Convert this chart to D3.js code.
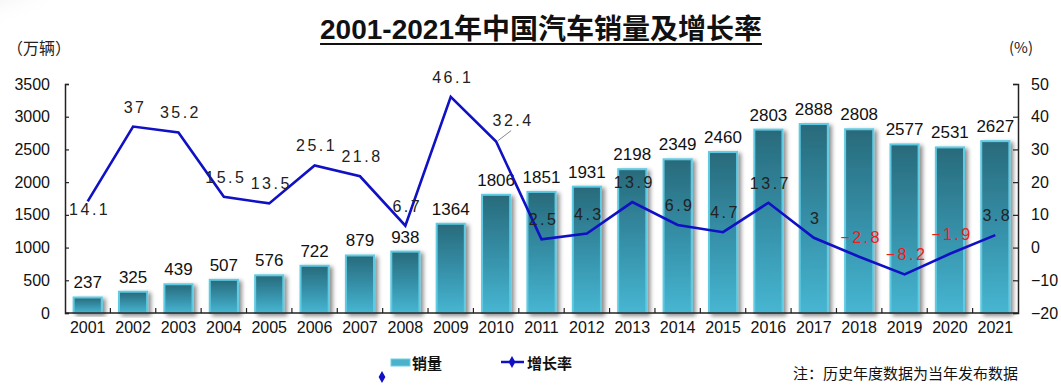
<!DOCTYPE html>
<html><head><meta charset="utf-8">
<script src="https://cdn.jsdelivr.net/npm/d3@7"></script>
<style>
html,body{margin:0;padding:0;background:#fff;}
svg{display:block;font-family:"Liberation Sans",Arial,sans-serif;}
</style></head>
<body>
<svg id="c" width="1061" height="386"></svg>
<script>
const years = ["2001","2002","2003","2004","2005","2006","2007","2008","2009","2010","2011","2012","2013","2014","2015","2016","2017","2018","2019","2020","2021"];
const sales = [237,325,439,507,576,722,879,938,1364,1806,1851,1931,2198,2349,2460,2803,2888,2808,2577,2531,2627];
const growth = [14.1,37,35.2,15.5,13.5,25.1,21.8,6.7,46.1,32.4,2.5,4.3,13.9,6.9,4.7,13.7,3,-2.8,-8.2,-1.9,3.8];
const leftTicks = [0,500,1000,1500,2000,2500,3000,3500];
const rightTicks = [-20,-10,0,10,20,30,40,50];
const titleText = "2001-2021年中国汽车销量及增长率";
const leftUnit = "（万辆）";
const rightUnit = "(%)";
const legendBar = "销量";
const legendLine = "增长率";
const noteText = "注：历史年度数据为当年发布数据";

// label placement tweaks (layout only)
const growthLabelDy = growth.map((d,i)=> i===0 ? 8 : -20);

const svg = d3.select("#c");
const W = 1061, H = 386;
const x0 = 65, x1 = 1018, yTop = 84, yBot = 313;

const defs = svg.append("defs");
const grad = defs.append("linearGradient").attr("id","barGrad").attr("x1",0).attr("y1",0).attr("x2",0).attr("y2",1);
grad.append("stop").attr("offset","0%").attr("stop-color","#286a7b");
grad.append("stop").attr("offset","50%").attr("stop-color","#358fa7");
grad.append("stop").attr("offset","100%").attr("stop-color","#47b6d2");
const f = defs.append("filter").attr("id","shadow").attr("x","-30%").attr("y","-10%").attr("width","170%").attr("height","130%");
f.append("feDropShadow").attr("dx",3).attr("dy",2).attr("stdDeviation",2).attr("flood-color","#000").attr("flood-opacity",0.45);
const rg = defs.append("radialGradient").attr("id","corner").attr("cx","0").attr("cy","0").attr("r","1");
rg.append("stop").attr("offset","0%").attr("stop-color","#cfcfcf");
rg.append("stop").attr("offset","100%").attr("stop-color","#ffffff").attr("stop-opacity",0);

svg.append("rect").attr("width",W).attr("height",H).attr("fill","#fff");
svg.append("ellipse").attr("cx",20).attr("cy",0).attr("rx",60).attr("ry",30).attr("fill","url(#corner)");

const x = d3.scaleBand().domain(years).range([x0,x1]).paddingInner(0.38).paddingOuter(0.19);
const yL = d3.scaleLinear().domain([0,3500]).range([yBot,yTop]);
const yR = d3.scaleLinear().domain([-20,50]).range([yBot,yTop]);

// Title
const t = svg.append("text").attr("x",541).attr("y",39).attr("text-anchor","middle")
  .attr("font-size",28).attr("font-weight","bold").attr("fill","#111")
  .attr("font-family","'Liberation Sans','Noto Sans CJK SC',sans-serif").text(titleText);
const tb = t.node().getBBox();
svg.append("line").attr("x1",tb.x).attr("x2",tb.x+tb.width).attr("y1",44).attr("y2",44).attr("stroke","#111").attr("stroke-width",2);

svg.append("text").attr("x",7).attr("y",54).attr("font-size",16).attr("fill","#222")
  .attr("font-family","'Noto Sans CJK SC',sans-serif").text(leftUnit);
svg.append("text").attr("x",1009).attr("y",53).attr("font-size",15).attr("fill","#222")
  .attr("font-family","'Noto Sans CJK SC',sans-serif").text(rightUnit);

// Bars
svg.append("g").selectAll("rect").data(sales).join("rect")
  .attr("x",(d,i)=>x(years[i])).attr("width",x.bandwidth())
  .attr("y",d=>yL(d)).attr("height",d=>yBot-yL(d))
  .attr("fill","url(#barGrad)").attr("stroke","#5fcbe3").attr("stroke-width",2)
  .attr("filter","url(#shadow)");

// Axes
const axL = d3.axisLeft(yL).tickValues(leftTicks).tickSize(-4).tickPadding(15).tickFormat(d3.format("d"));
const gL = svg.append("g").attr("transform",`translate(${x0},0)`).call(axL);
const axR = d3.axisRight(yR).tickValues(rightTicks).tickSize(-5).tickPadding(13).tickFormat(d=> d<0 ? "\u2212"+Math.abs(d) : String(d));
const gR = svg.append("g").attr("transform",`translate(${x1},0)`).call(axR);
[gL,gR].forEach(g=>{
  g.select(".domain").attr("stroke","#222").attr("stroke-width",1.5);
  g.selectAll(".tick line").attr("stroke","#222").attr("stroke-width",1.2);
  g.selectAll(".tick text").attr("font-size",16).attr("fill","#111").attr("font-family","'Liberation Sans',Arial,sans-serif");
});

const axB = d3.axisBottom(x).tickSize(0).tickPadding(9);
const gB = svg.append("g").attr("transform",`translate(0,${yBot})`).call(axB);
gB.select(".domain").remove();
gB.selectAll(".tick text").attr("font-size",16).attr("fill","#111").attr("font-family","'Liberation Sans',Arial,sans-serif");
svg.append("line").attr("x1",x0).attr("x2",x1).attr("y1",yBot).attr("y2",yBot).attr("stroke","#222").attr("stroke-width",1.5);
svg.append("g").selectAll("line").data(years.slice(1)).join("line")
  .attr("x1",d=>x(d)-x.step()*x.paddingInner()/2).attr("x2",d=>x(d)-x.step()*x.paddingInner()/2)
  .attr("y1",yBot).attr("y2",yBot-5).attr("stroke","#222").attr("stroke-width",1.2);

// Bar labels
svg.append("g").selectAll("text").data(sales).join("text")
  .attr("x",(d,i)=>x(years[i])+x.bandwidth()/2).attr("y",d=>yL(d)-9)
  .attr("text-anchor","middle").attr("font-size",17).attr("fill","#111").text(d=>d);

// Line
const cx = i => x(years[i])+x.bandwidth()/2;
const line = d3.line().x((d,i)=>cx(i)).y(d=>yR(d));
svg.append("path").datum(growth).attr("d",line).attr("fill","none").attr("stroke","#1010c4").attr("stroke-width",2.6).attr("stroke-linejoin","miter");

// leader for 32.4
const li = 9;
svg.append("line").attr("x1",cx(li)+2).attr("y1",yR(growth[li])-1).attr("x2",cx(li)+15).attr("y2",yR(growth[li])-11)
  .attr("stroke","#888").attr("stroke-width",1);

// Growth labels
svg.append("g").selectAll("text").data(growth).join("text")
  .attr("x",(d,i)=> cx(i) + (i===li?15:0) + 2)
  .attr("y",(d,i)=> yR(d) + (i===li?-22:growthLabelDy[i]) + 6)
  .attr("text-anchor","middle").attr("font-size",16).attr("letter-spacing","2.5px")
  .attr("font-family","'Liberation Sans',Arial,sans-serif")
  .attr("fill",d=> d<0 ? "#e8201c" : "#222")
  .text(d=> d<0 ? "\u2212"+Math.abs(d) : d);

// Legend
svg.append("rect").attr("x",391).attr("y",359).attr("width",19).attr("height",7).attr("fill","#4bb2cc").attr("stroke","#6fcfe3");
svg.append("text").attr("x",412).attr("y",369).attr("font-size",15).attr("font-weight","bold").attr("fill","#111")
  .attr("font-family","'Noto Sans CJK SC',sans-serif").text(legendBar);
svg.append("line").attr("x1",501).attr("x2",524).attr("y1",362).attr("y2",362).attr("stroke","#1010c4").attr("stroke-width",2.5);
const diamond = d3.symbol().type(d3.symbolDiamond).size(40);
svg.append("path").attr("d",diamond).attr("transform","translate(512,362)").attr("fill","#1010c4");
svg.append("path").attr("d",diamond).attr("transform","translate(382,377)").attr("fill","#1010c4");
svg.append("text").attr("x",527).attr("y",369).attr("font-size",15).attr("font-weight","bold").attr("fill","#111")
  .attr("font-family","'Noto Sans CJK SC',sans-serif").text(legendLine);
svg.append("text").attr("x",793).attr("y",379).attr("font-size",15).attr("fill","#111")
  .attr("font-family","'Noto Sans CJK SC',sans-serif").text(noteText);
</script>
</body></html>
